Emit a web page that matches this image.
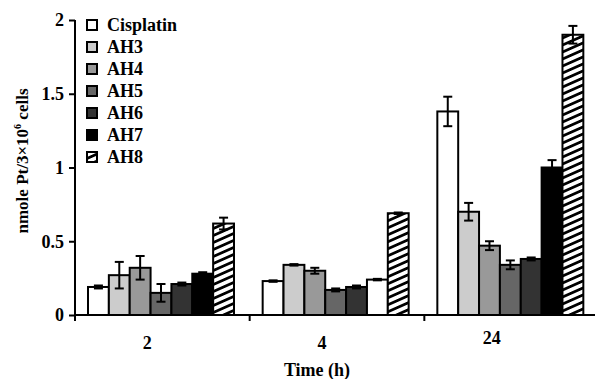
<!DOCTYPE html>
<html>
<head>
<meta charset="utf-8">
<script src="https://cdn.jsdelivr.net/npm/d3@7"></script>
<style>
  body { margin: 0; background: #fff; }
  svg text { font-family: "Liberation Serif", "Times New Roman", serif; font-weight: bold; fill: #000; }
</style>
</head>
<body>
<svg id="chart" width="595" height="379"></svg>
<script>
const times = ["2", "4", "24"];
const series = ["Cisplatin", "AH3", "AH4", "AH5", "AH6", "AH7", "AH8"];
// values per series, in order of times
const cisplatin = [0.19, 0.23, 1.38];
const ah3 = [0.27, 0.34, 0.70];
const ah4 = [0.32, 0.30, 0.47];
const ah5 = [0.15, 0.17, 0.34];
const ah6 = [0.21, 0.19, 0.38];
const ah7 = [0.28, 0.24, 1.00];
const ah8 = [0.62, 0.69, 1.90];
// error bar half-widths
const cisplatinErr = [0.01, 0.005, 0.10];
const ah3Err = [0.09, 0.005, 0.06];
const ah4Err = [0.08, 0.02, 0.03];
const ah5Err = [0.06, 0.01, 0.03];
const ah6Err = [0.01, 0.01, 0.01];
const ah7Err = [0.01, 0.005, 0.05];
const ah8Err = [0.04, 0.005, 0.06];
const yTicks = [0, 0.5, 1, 1.5, 2];

const values = [cisplatin, ah3, ah4, ah5, ah6, ah7, ah8];
const errors = [cisplatinErr, ah3Err, ah4Err, ah5Err, ah6Err, ah7Err, ah8Err];
const fills = ["#ffffff", "#cccccc", "#999999", "#666666", "#333333", "#000000", "url(#hatch)"];

const d3v = window.d3;
const svg = d3v.select("#chart");
const margin = { top: 20, right: -4, bottom: 64, left: 75 };
const width = 595, height = 379;

const defs = svg.append("defs");
const pat = defs.append("pattern")
  .attr("id", "hatch")
  .attr("patternUnits", "userSpaceOnUse")
  .attr("width", 40).attr("height", 7)
  .attr("patternTransform", "skewY(-24)");
pat.append("rect").attr("width", 40).attr("height", 7).attr("fill", "#fff");
pat.append("rect").attr("width", 40).attr("height", 3).attr("fill", "#000");

const x = d3v.scaleBand().domain(times).range([margin.left, width - margin.right]);
const xs = d3v.scaleBand().domain(series).range([13, 159]);
const y = d3v.scaleLinear().domain([0, 2]).range([height - margin.bottom, margin.top]);

const data = [];
times.forEach((t, ti) => {
  series.forEach((s, si) => {
    data.push({ time: t, name: s, value: values[si][ti], err: errors[si][ti], fill: fills[si] });
  });
});
// in the source figure the AH7 bar at 4 h is printed white
data.forEach(d => { if (d.time === "4" && d.name === "AH7") d.fill = "#ffffff"; });

const g = svg.append("g");

g.selectAll(".bar").data(data).enter().append("rect")
  .attr("class", "bar")
  .attr("x", d => x(d.time) + xs(d.name))
  .attr("y", d => y(d.value))
  .attr("width", xs.bandwidth())
  .attr("height", d => y(0) - y(d.value))
  .attr("fill", d => d.fill)
  .attr("stroke", "#000")
  .attr("stroke-width", 2);

const eb = g.selectAll(".err").data(data).enter().append("g").attr("class", "err")
  .attr("stroke", "#000").attr("stroke-width", 2);
const cx = d => x(d.time) + xs(d.name) + xs.bandwidth() / 2;
eb.append("line")
  .attr("x1", cx).attr("x2", cx)
  .attr("y1", d => y(d.value + d.err)).attr("y2", d => y(d.value - d.err));
eb.append("line")
  .attr("x1", d => cx(d) - 4.5).attr("x2", d => cx(d) + 4.5)
  .attr("y1", d => y(d.value + d.err)).attr("y2", d => y(d.value + d.err));
eb.append("line")
  .attr("x1", d => cx(d) - 4.5).attr("x2", d => cx(d) + 4.5)
  .attr("y1", d => y(d.value - d.err)).attr("y2", d => y(d.value - d.err));

// y axis
const yAxis = svg.append("g")
  .attr("transform", `translate(${margin.left},0)`)
  .call(d3v.axisLeft(y).tickValues(yTicks).tickFormat(d3v.format("")).tickSize(6).tickPadding(5));
yAxis.select(".domain").attr("stroke-width", 2).attr("d", `M0,${y(2)}V${y(0)}`);
yAxis.selectAll(".tick line").attr("stroke-width", 2);
yAxis.selectAll(".tick text").attr("font-size", 18).attr("font-family", "Liberation Serif").attr("font-weight", "bold");

// x axis
const xAxis = svg.append("g")
  .attr("transform", `translate(0,${y(0)})`)
  .call(d3v.axisBottom(x).tickSize(0).tickPadding(20));
xAxis.select(".domain").attr("stroke-width", 2).attr("d", `M${margin.left},0H${width + 4}`);
xAxis.selectAll(".tick text")
  .attr("font-size", 18).attr("font-family", "Liberation Serif").attr("font-weight", "bold")
  .attr("dx", d => d === "24" ? -20 : -15)
  .attr("dy", d => d === "24" ? "0.5em" : "0.8em");
xAxis.selectAll(".sep").data(times).enter().append("line")
  .attr("class", "sep")
  .attr("x1", d => x(d)).attr("x2", d => x(d))
  .attr("y1", 0).attr("y2", 6)
  .attr("stroke", "#000").attr("stroke-width", 2);

// titles
svg.append("text")
  .attr("x", 317).attr("y", 376)
  .attr("text-anchor", "middle")
  .attr("font-size", 18)
  .text("Time (h)");

const yl = svg.append("text")
  .attr("transform", "translate(28,161) rotate(-90)")
  .attr("text-anchor", "middle")
  .attr("font-size", 17);
yl.append("tspan").text("nmole Pt/3×10");
yl.append("tspan").attr("font-size", 10).attr("dy", -7).text("6");
yl.append("tspan").attr("dy", 7).text(" cells");

// legend
const legend = svg.append("g").attr("transform", "translate(87,25)");
const li = legend.selectAll(".li").data(series).enter().append("g")
  .attr("transform", (d, i) => `translate(0,${i * 22})`);
li.append("rect")
  .attr("x", 0).attr("y", -5).attr("width", 10).attr("height", 10)
  .attr("fill", (d, i) => fills[i])
  .attr("stroke", "#000").attr("stroke-width", 2);
li.append("text")
  .attr("x", 20).attr("y", 0).attr("dy", "0.35em")
  .attr("font-size", 18)
  .text(d => d);
</script>
</body>
</html>
